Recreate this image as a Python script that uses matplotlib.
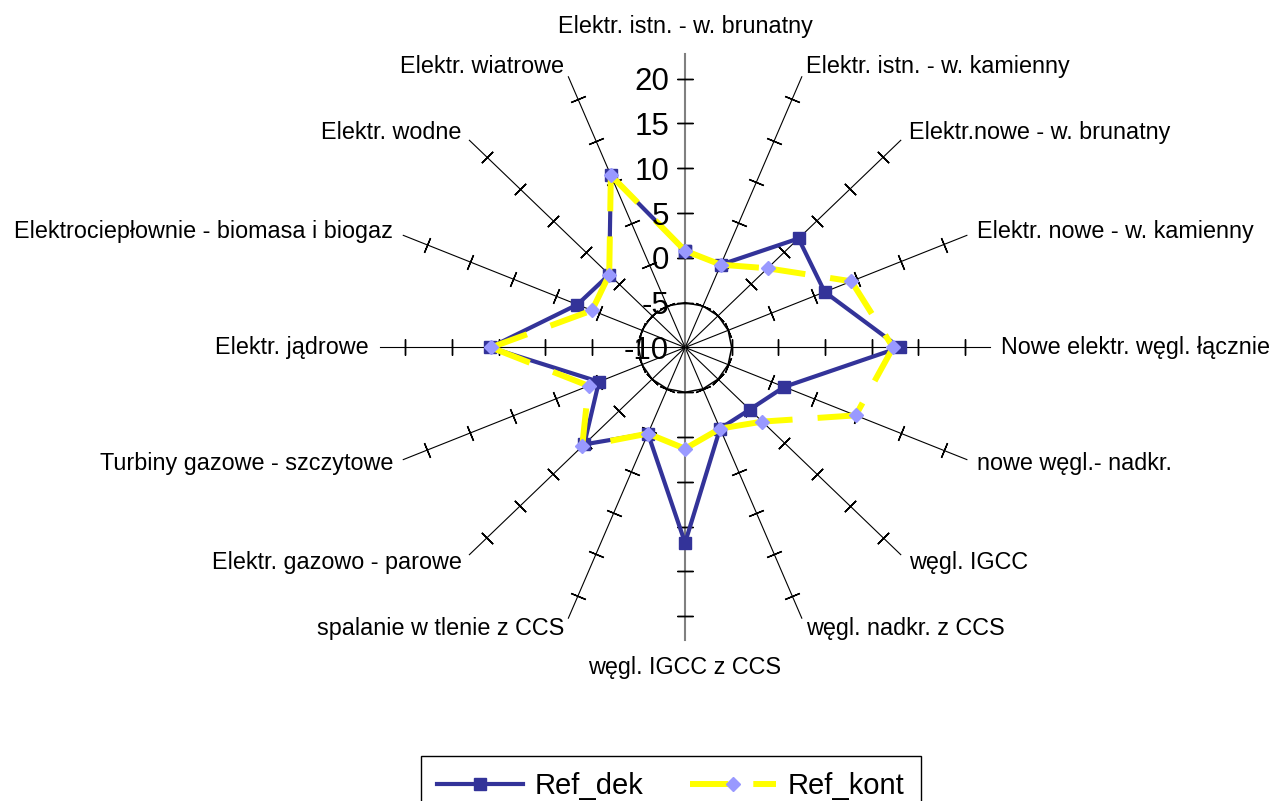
import numpy as np
import matplotlib
matplotlib.use('Agg')
import matplotlib.pyplot as plt
from matplotlib.lines import Line2D

categories = [
    "Elektr. istn. - w. brunatny",
    "Elektr. istn. - w. kamienny",
    "Elektr.nowe - w. brunatny",
    "Elektr. nowe - w. kamienny",
    "Nowe elektr. węgl. łącznie",
    "nowe węgl.- nadkr.",
    "węgl. IGCC",
    "węgl. nadkr. z CCS",
    "węgl. IGCC z CCS",
    "spalanie w tlenie z CCS",
    "Elektr. gazowo - parowe",
    "Turbiny gazowe - szczytowe",
    "Elektr. jądrowe",
    "Elektrociepłownie - biomasa i biogaz",
    "Elektr. wodne",
    "Elektr. wiatrowe",
]
ref_dek = [0.8, 0.0, 7.2, 6.2, 13.0, 1.5, -0.2, -0.2, 11.8, 0.4, 5.3, 0.0, 10.9, 2.5, 1.5, 10.8]
ref_kont = [0.8, 0.0, 2.5, 9.3, 12.3, 9.8, 1.7, -0.2, 1.3, 0.4, 5.6, 1.2, 10.8, 0.8, 1.5, 10.8]
series_names = ["Ref_dek", "Ref_kont"]
r_ticks = [-10, -5, 0, 5, 10, 15, 20]

plt.rcParams['font.family'] = ['Liberation Sans', 'DejaVu Sans']

BLUE = '#333399'
LIGHT = '#9999FF'
YELLOW = '#FFFF00'
RMIN, RMAX = -10, 22.7
DASH = (0, (6.4, 4.2))

fig = plt.figure(figsize=(12.84, 8.01), dpi=100)
fig.patch.set_facecolor('white')
ax = fig.add_axes([0.2960, 0.2004, 0.4751, 0.7316], projection='polar')
ax.set_theta_zero_location('N')
ax.set_theta_direction(-1)
ax.set_ylim(RMIN, RMAX)
ax.set_aspect('auto')
ax.axis('off')

n = len(categories)
theta = np.arange(n) * 2 * np.pi / n
theta_c = np.append(theta, theta[0])

# spokes with cross ticks
for i, th in enumerate(theta):
    vertical = i in (0, n // 2)
    ax.plot([th, th], [RMIN, RMAX], color='#808080' if vertical else 'black',
            lw=1.5 if vertical else 0.8, zorder=1, clip_on=False)
    deg = np.degrees(th)
    ax.plot([th] * (len(r_ticks) - 1), r_ticks[1:], ls='none',
            marker=(2, 2, 90 - deg), ms=11.5, mew=1.0, color='black',
            zorder=1.5, clip_on=False)

# gridline polygon at -5
ax.plot(theta_c, [r_ticks[1]] * (n + 1), color='black', lw=1.1, zorder=1.2)

# series 1
dek_c = np.append(ref_dek, ref_dek[0])
ax.plot(theta_c, dek_c, color=BLUE, lw=3, marker='s', ms=8.5, mfc=BLUE, mec=BLUE,
        zorder=3, clip_on=False)

# series 2: dash pattern restarts on every segment
kont_c = np.append(ref_kont, ref_kont[0])
for i in range(n):
    ax.plot(theta_c[i:i + 2], kont_c[i:i + 2], color=YELLOW, lw=4.3, ls=DASH,
            dash_capstyle='butt', zorder=4, clip_on=False)
ax.plot(theta, ref_kont, ls='none', marker='D', ms=7.1, mfc=LIGHT, mec=LIGHT,
        zorder=5, clip_on=False)

# value tick labels
for v in r_ticks:
    ax.annotate(str(v), xy=(0, v), xytext=(-16, 0), textcoords='offset pixels',
                ha='right', va='center_baseline', fontsize=22.5, zorder=10,
                annotation_clip=False)

# category labels
for i, (th, lab) in enumerate(zip(theta, categories)):
    s, c = np.sin(th), np.cos(th)
    if abs(s) < 0.01:
        ha = 'center'
        va = 'bottom' if c > 0 else 'top'
        d = 16
    else:
        ha = 'left' if s > 0 else 'right'
        va = 'center'
        d = 11
    ax.annotate(lab, xy=(th, RMAX), xytext=(d * s, d * c), textcoords='offset pixels',
                ha=ha, va=va, fontsize=16.8, annotation_clip=False)

handles = [
    Line2D([], [], color=BLUE, lw=3, marker='s', ms=8.5, mfc=BLUE, mec=BLUE),
    Line2D([], [], color=YELLOW, lw=4.3, ls=DASH, marker='D', ms=7.1, mfc=LIGHT, mec=LIGHT),
]
leg = fig.legend(handles, series_names, loc='center', bbox_to_anchor=(671 / 1284, 1 - 786 / 801),
                 ncol=2, fontsize=21, frameon=True, fancybox=False, edgecolor='black',
                 framealpha=1, handlelength=2.95, handletextpad=0.4, columnspacing=1.6,
                 borderpad=0.55)
leg.get_frame().set_linewidth(1.0)

fig.savefig('out.png', dpi=100, facecolor='white')
